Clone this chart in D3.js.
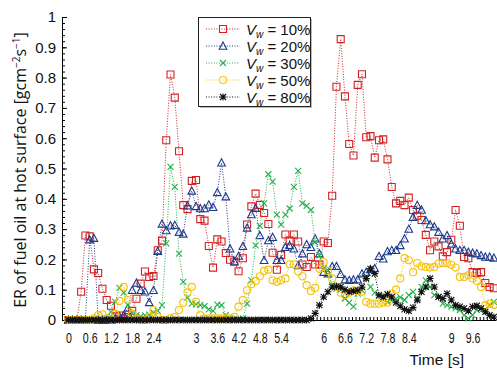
<!DOCTYPE html>
<html><head><meta charset="utf-8">
<script src="https://cdn.jsdelivr.net/npm/d3@7/dist/d3.min.js"></script>
<style>
body{margin:0;background:#fff;}
svg{display:block;font-family:"Open Sans","Noto Sans",sans-serif;}
</style></head>
<body>
<svg id="chart" width="497" height="369"></svg>
<script>
// ---------- data ----------
const time = [0,0.1,0.2,0.3,0.4,0.5,0.6,0.7,0.8,0.9,1,1.1,1.2,1.3,1.4,1.5,1.6,1.7,1.8,1.9,2,2.1,2.2,2.3,2.4,2.5,2.6,2.7,2.8,2.9,3,3.1,3.2,3.3,3.4,3.5,3.6,3.7,3.8,3.9,4,4.1,4.2,4.3,4.4,4.5,4.6,4.7,4.8,4.9,5,5.1,5.2,5.3,5.4,5.5,5.6,5.7,5.8,5.9,6,6.1,6.2,6.3,6.4,6.5,6.6,6.7,6.8,6.9,7,7.1,7.2,7.3,7.4,7.5,7.6,7.7,7.8,7.9,8,8.1,8.2,8.3,8.4,8.5,8.6,8.7,8.8,8.9,9,9.1,9.2,9.3,9.4,9.5,9.6,9.7,9.8,9.9,10];

const vw10 = [0,0,0,0.093,0.279,0.276,0.167,0.155,0.103,0.066,
0.047,0.012,0.015,0.005,0.01,0.03,0.07,0.12,0.16,0.142,
0.145,0.23,0.262,0.593,0.81,0.734,0.557,0.379,0.366,0.459,
0.462,0.333,0.328,0.244,0.173,0.266,0.259,0.221,0.199,0.192,
0.161,0.204,0.315,0.375,0.417,0.38,0.353,0.317,0.222,0.166,
0.215,0.282,0.262,0.282,0.259,0.183,0.175,0.208,0.183,0.183,
0.259,0.254,0.41,0.77,0.927,0.738,0.581,0.543,0.776,0.811,
0.603,0.607,0.536,0.593,0.596,0.53,0.439,0.385,0.393,0.379,
0.404,0.363,0.344,0.33,0.281,0.23,0.259,0.243,0.21,0.224,
0.265,0.363,0.311,0.208,0.204,0.158,0.155,0.158,0.122,0.109,0.105];

const vw20 = [0,0,0,0,0,0.265,0.27,0,0,0,
0,0.005,0.012,0.015,0.04,0.098,0.122,0.098,0.093,0.058,
0.098,0.227,0.317,0.295,0.311,0.313,0.29,0.284,0.377,0.426,
0.375,0.368,0.368,0.38,0.372,0.421,0.519,0.407,0.235,0.193,
0.211,0.243,0.304,0.348,0.369,0.279,0.197,0.262,0.273,0.197,
0.197,0.24,0.246,0.235,0.18,0.219,0.249,0.24,0.268,0.219,
0.158,0.153,0.177,0.177,0.151,0.133,0.131,0.133,0.133,0.153,
0.158,0.167,0.17,0.21,0.202,0.226,0.23,0.23,0.246,0.268,
0.3,0.339,0.379,0.363,0.328,0.315,0.308,0.29,0.268,0.279,
0.251,0.235,0.23,0.23,0.224,0.221,0.219,0.213,0.208,0.208,0.205];

const vw30 = [0,0,0,0,0,0,0,0,0,0,
0.027,0.06,0.106,0.09,0.049,0.022,0.016,0.012,0.015,0.018,
0.024,0.03,0.049,0.253,0.505,0.439,0.219,0.126,0.074,0.054,
0.051,0.049,0.046,0.035,0.03,0.051,0.049,0.016,0.005,0,
0.002,0.005,0.054,0.131,0.246,0.311,0.385,0.481,0.457,0.348,
0.315,0.348,0.368,0.439,0.492,0.385,0.377,0.363,0.257,0.213,
0.17,0.164,0.115,0.104,0.1,0.071,0.057,0.044,0.087,0.098,
0.142,0.109,0.09,0.08,0.07,0.06,0.065,0.07,0.075,0.066,
0.082,0.093,0.071,0.109,0.131,0.109,0.082,0.076,0.054,0.049,
0.044,0.038,0.033,0.016,0.005,0.016,0.033,0.038,0.033,0.049,0.06];

const vw50 = [0,0,0,0,0,0,0.005,0.016,0.019,0.005,
0,0.02,0.063,0.109,0.066,0.02,0.005,0,0,0.01,
0.033,0.01,0,0,0.005,0.01,0.033,0.057,0.091,0.109,
0.06,0.016,0.005,0.005,0.005,0.005,0.005,0.005,0.005,0.01,
0.044,0.066,0.098,0.118,0.129,0.144,0.162,0.166,0.131,0.126,
0.131,0.137,0.184,0.184,0.16,0.144,0.115,0.096,0.106,0.169,
0.191,0.162,0.137,0.11,0.09,0.082,0.09,0.098,0.096,0.093,
0.06,0.054,0.054,0.054,0.057,0.057,0.087,0.1,0.137,0.204,
0.197,0.158,0.188,0.177,0.175,0.173,0.175,0.186,0.188,0.188,
0.182,0.173,0.142,0.142,0.148,0.137,0.129,0.109,0.049,0.054,0.05];

const vw80 = [0,0,0,0,0,0,0,0,0,0,
0,0,0,0,0,0,0,0,0,0,
0,0,0,0,0,0,0,0,0,0,
0,0,0,0,0,0,0,0,0,0,
0,0,0,0,0,0,0,0,0,0,
0,0,0,0,0,0,0,0.005,0.022,0.049,
0.076,0.093,0.109,0.111,0.109,0.1,0.093,0.096,0.098,0.109,
0.137,0.169,0.153,0.082,0.076,0.085,0.076,0.057,0.046,0.035,
0.03,0.041,0.066,0.093,0.109,0.137,0.109,0.076,0.071,0.087,
0.066,0.049,0.044,0.038,0.03,0.044,0.047,0.038,0.027,0.016,0.01];

const seriesNames = ["10%","20%","30%","50%","80%"];
const xTickPositions = [0,0.5,1,1.5,2,3,3.5,4,4.5,5,6,6.5,7,7.5,8,9,9.5];
const xTickLabels = ["0","0.6","1.2","1.8","2.4","3","3.6","4.2","4.8","5.4","6","6.6","7.2","7.8","8.4","9","9.6"];
const yTickValues = [0,0.1,0.2,0.3,0.4,0.5,0.6,0.7,0.8,0.9,1];
const yTickLabels = ["0","0.1","0.2","0.3","0.4","0.5","0.6","0.7","0.8","0.9","1"];

// ---------- drawing ----------
const colors = ["#d42020","#1c3a8c","#22b04a","#f4c20d","#111111"];
const markers = ["square","triangle","cross","circle","star"];
const values = [vw10, vw20, vw30, vw50, vw80];

const svg = d3.select("#chart");
const x = d3.scaleLinear().domain([-0.15, 10.05]).range([62, 496]);
const y = d3.scaleLinear().domain([0, 1]).range([320, 17]);

function markerPath(type){
  const s = 3.5;
  switch(type){
    case "square": return `M${-s},${-s}H${s}V${s}H${-s}Z`;
    case "triangle": return `M0,${-s-0.5}L${s+0.3},${s-0.3}L${-s-0.3},${s-0.3}Z`;
    case "cross": return `M-3,-3L3,3M-3,3L3,-3`;
    case "circle": return d3.symbol(d3.symbolCircle, 40)();
    case "star": return `M-3,-3L3,3M-3,3L3,-3M0,-3.5V3.5M-3.5,0H3.5`;
  }
}

// axes: minor ticks
const yMinor = d3.range(0, 1.0001, 0.02);
svg.append("g").attr("transform","translate(62,0)")
  .call(d3.axisLeft(y).tickValues(yMinor).tickSize(-3).tickFormat(""))
  .call(g=>g.select(".domain").remove())
  .selectAll("line").attr("stroke","#000");
svg.append("g").attr("transform","translate(62,0)")
  .call(d3.axisLeft(y).tickValues(yTickValues).tickSize(-5).tickSizeOuter(0).tickPadding(6)
    .tickFormat((d,i)=>yTickLabels[i]))
  .call(g=>{
    g.select(".domain").attr("stroke","#000");
    g.selectAll("text").attr("font-size",15).attr("fill","#111");
  });

const xMinor = d3.range(-0.0833, 10.05, 0.5/6);
svg.append("g").attr("transform","translate(0,320)")
  .call(d3.axisBottom(x).tickValues(xMinor).tickSize(-3).tickFormat("").tickSizeOuter(0))
  .call(g=>g.select(".domain").attr("stroke","#000"));
svg.append("g").attr("transform","translate(0,320)")
  .call(d3.axisBottom(x).tickValues(xTickPositions).tickSize(0).tickPadding(13)
    .tickFormat((d,i)=>xTickLabels[i]))
  .call(g=>{
    g.select(".domain").remove();
    g.selectAll("text").attr("font-size",14).attr("fill","#111")
      .attr("transform","scale(0.76,1)");
  });

// series
values.forEach((vals, k)=>{
  const pts = time.map((t,i)=>[t, vals[i]]);
  const line = d3.line().x(d=>x(d[0])).y(d=>y(d[1]));
  svg.append("path").attr("d", line(pts))
    .attr("fill","none").attr("stroke",colors[k]).attr("stroke-width",1)
    .attr("stroke-dasharray","1,1.6");
  svg.append("g").selectAll("path").data(pts).join("path")
    .attr("transform",d=>`translate(${x(d[0])},${y(d[1])})`)
    .attr("d", markerPath(markers[k]))
    .attr("fill","none").attr("stroke",colors[k]).attr("stroke-width",1.1);
});

// legend
const lg = svg.append("g");
lg.append("rect").attr("x",200).attr("y",19).attr("width",112).attr("height",89).attr("fill","#bbb");
lg.append("rect").attr("x",198.5).attr("y",17.5).attr("width",112).attr("height",89)
  .attr("fill","#fff").attr("stroke","#222").attr("stroke-width",1);
seriesNames.forEach((name,k)=>{
  const cy = 29 + k*17;
  lg.append("line").attr("x1",206).attr("x2",240).attr("y1",cy).attr("y2",cy)
    .attr("stroke",colors[k]).attr("stroke-dasharray","1,1.6");
  lg.append("path").attr("transform",`translate(223,${cy})`).attr("d",markerPath(markers[k]))
    .attr("fill","none").attr("stroke",colors[k]).attr("stroke-width",1.1);
  const t = lg.append("text").attr("x",246).attr("y",cy+5.5)
    .attr("font-family","'Liberation Sans',Arial,sans-serif").attr("font-size",15).attr("fill","#111");
  t.append("tspan").attr("font-style","italic").text("V");
  t.append("tspan").attr("font-style","italic").attr("font-size",10).attr("dy",3).text("w");
  t.append("tspan").attr("dy",-3).text(" = " + name);
});

// titles
svg.append("text").attr("x",464).attr("y",365).attr("text-anchor","end")
  .attr("font-family","'Liberation Sans',Arial,sans-serif")
  .attr("font-size",15.5).attr("fill","#111").text("Time [s]");
const yt = svg.append("text").attr("transform","translate(26,170) rotate(-90)")
  .attr("text-anchor","middle").attr("font-size",16).attr("fill","#111");
yt.append("tspan").text("ER of fuel oil at hot surface [gcm");
yt.append("tspan").attr("font-size",10).attr("dy",-6).text("−2");
yt.append("tspan").attr("dy",6).text("s");
yt.append("tspan").attr("font-size",10).attr("dy",-6).text("−1");
yt.append("tspan").attr("dy",6).text("]");
</script>
</body></html>
